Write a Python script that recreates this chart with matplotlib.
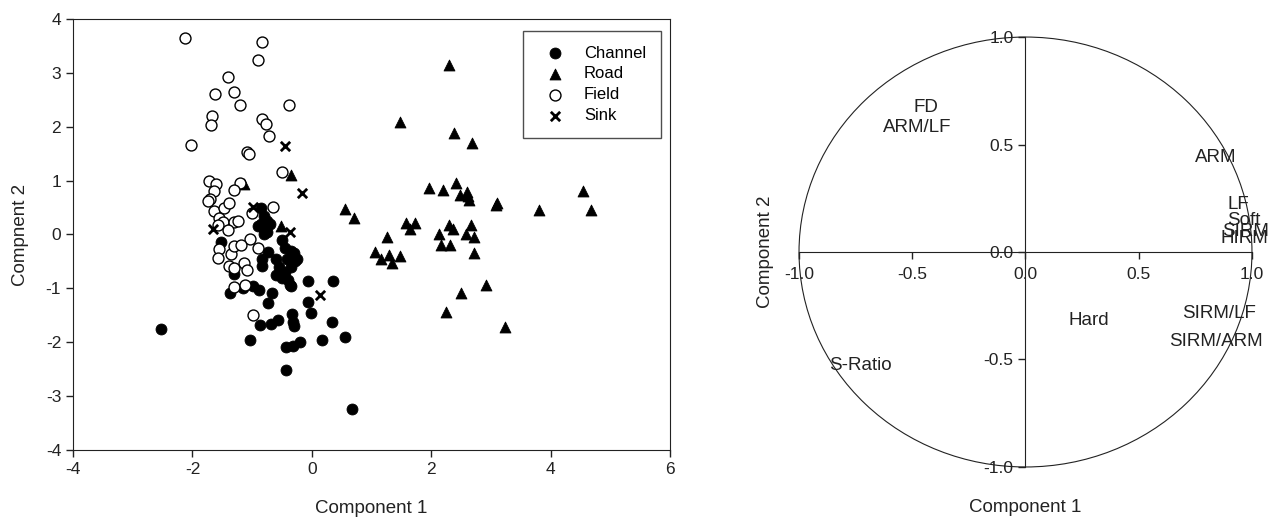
import matplotlib
matplotlib.use("Agg")
import matplotlib.pyplot as plt
from matplotlib.patches import Circle

plt.rcParams["font.family"] = ["Liberation Sans", "DejaVu Sans"]
plt.rcParams["axes.unicode_minus"] = False

# PCA scores (component 1, component 2) per site type
channel_x = [-2.53, 0.67, -0.43, -1.03, 0.17, 0.55, -0.43, -0.32, -0.20, 0.34,
             -0.87, -0.69, -0.57, -0.34, -0.32, -0.30, -0.01, -0.07, -0.74, -1.37,
             -1.15, -0.99, -0.88, -0.66, -0.37, -0.06, 0.35, -1.53, -1.30, -0.84,
             -0.84, -0.73, -0.85, -0.80, -0.75, -0.85, -0.80, -0.90, -0.70, -0.80,
             -0.75, -0.50, -0.45, -0.35, -0.30, -0.25, -0.60, -0.55, -0.45, -0.35,
             -0.50, -0.40, -0.35, -0.60, -0.30, -0.42, -0.28]
channel_y = [-1.75, -3.24, -2.51, -1.96, -1.96, -1.91, -2.09, -2.07, -1.99, -1.63,
             -1.68, -1.66, -1.59, -1.48, -1.62, -1.70, -1.45, -1.26, -1.28, -1.09,
             -1.00, -0.95, -1.03, -1.08, -0.94, -0.87, -0.87, -0.14, -0.74, -0.59,
             -0.45, -0.32, 0.50, 0.35, 0.25, 0.20, 0.10, 0.15, 0.20, 0.00,
             0.05, -0.10, -0.25, -0.30, -0.40, -0.45, -0.45, -0.60, -0.70, -0.60,
             -0.80, -0.85, -0.95, -0.75, -0.35, -0.45, -0.50]

road_x = [2.29, 1.47, 2.38, 2.69, -0.35, -1.14, 1.96, 2.20, 2.42, 2.48,
          2.60, 2.61, 2.63, 3.08, 3.10, 3.81, 4.54, 4.68, 0.56, 0.71,
          -0.52, 1.58, 1.73, 1.65, 1.26, 1.06, 1.16, 1.30, 1.35, 1.47,
          2.29, 2.37, 2.13, 2.16, 2.31, 2.67, 2.58, 2.72, 2.72, 2.91,
          2.50, 2.25, 3.23]
road_y = [3.15, 2.09, 1.88, 1.70, 1.11, 0.93, 0.87, 0.82, 0.95, 0.74,
          0.78, 0.71, 0.64, 0.55, 0.59, 0.46, 0.80, 0.46, 0.47, 0.30,
          0.15, 0.21, 0.21, 0.10, -0.04, -0.32, -0.46, -0.38, -0.53, -0.40,
          0.18, 0.10, 0.01, -0.20, -0.19, 0.17, 0.01, -0.04, -0.35, -0.94,
          -1.09, -1.43, -1.71]

field_x = [-2.12, -0.83, -0.90, -1.40, -1.63, -1.31, -1.20, -0.39, -1.67, -1.69,
           -2.03, -0.83, -0.77, -0.71, -1.08, -1.05, -0.50, -1.73, -1.61, -1.21,
           -1.64, -1.31, -1.70, -1.74, -1.64, -1.47, -1.38, -0.65, -1.01, -1.55,
           -1.49, -1.31, -1.23, -1.57, -1.40, -1.03, -1.55, -1.57, -1.36, -1.31,
           -1.18, -0.90, -1.14, -1.08, -1.39, -1.31, -1.31, -1.12, -0.98]
field_y = [3.65, 3.57, 3.24, 2.93, 2.61, 2.64, 2.41, 2.41, 2.20, 2.04,
           1.67, 2.15, 2.06, 1.83, 1.54, 1.49, 1.16, 1.00, 0.94, 0.95,
           0.81, 0.82, 0.66, 0.63, 0.44, 0.50, 0.59, 0.51, 0.40, 0.30,
           0.24, 0.23, 0.25, 0.17, 0.08, -0.09, -0.27, -0.44, -0.36, -0.22,
           -0.19, -0.25, -0.53, -0.66, -0.59, -0.63, -0.97, -0.94, -1.49]

sink_x = [-0.45, -0.16, -0.99, -1.66, -0.36, 0.14]
sink_y = [1.65, 0.77, 0.51, 0.11, 0.04, -1.13]

# loadings labels
var_names = ["FD", "ARM/LF", "ARM", "LF", "Soft", "SIRM", "HIRM",
             "Hard", "SIRM/LF", "SIRM/ARM", "S-Ratio"]
var_x = [-0.44, -0.48, 0.84, 0.94, 0.965, 0.972, 0.965, 0.28, 0.855, 0.843, -0.73]
var_y = [0.67, 0.58, 0.44, 0.22, 0.145, 0.096, 0.065, -0.32, -0.285, -0.415, -0.53]

x_ticks = [-4, -2, 0, 2, 4, 6]
y_ticks = [-4, -3, -2, -1, 0, 1, 2, 3, 4]
c_ticks = [-1.0, -0.5, 0.0, 0.5, 1.0]

ink = "#222222"
fig = plt.figure(figsize=(12.77, 5.18), dpi=100)

# left: score plot
ax = fig.add_axes([0.0572, 0.1313, 0.4675, 0.832])
ax.scatter(channel_x, channel_y, s=62, marker="o", c="black", edgecolors="black",
           linewidths=0.6, label="Channel", zorder=3)
ax.scatter(road_x, road_y, s=62, marker="^", c="black", edgecolors="black",
           linewidths=0.6, label="Road", zorder=3)
ax.scatter(field_x, field_y, s=62, marker="o", facecolors="white", edgecolors="black",
           linewidths=1.0, label="Field", zorder=3)
ax.scatter(sink_x, sink_y, s=45, marker="x", c="black", linewidths=2.0,
           label="Sink", zorder=4)
ax.set_xlim(-4, 6)
ax.set_ylim(-4, 4)
ax.set_xticks(x_ticks)
ax.set_yticks(y_ticks)
ax.tick_params(direction="out", length=5, width=1, labelsize=12.5, colors=ink)
for sp in ax.spines.values():
    sp.set_color(ink)
ax.set_xlabel("Component 1", fontsize=13.5, color=ink, labelpad=17)
ax.set_ylabel("Compnent 2", fontsize=13.5, color=ink, labelpad=12)
leg = ax.legend(loc="upper right", bbox_to_anchor=(0.985, 0.973), borderaxespad=0,
                frameon=True, fancybox=False, edgecolor=ink, fontsize=12,
                handletextpad=0.75, borderpad=0.9, labelspacing=0.35,
                scatterpoints=1)
leg.get_frame().set_linewidth(1.0)

# right: correlation circle
ax2 = fig.add_axes([0.6257, 0.0985, 0.3547, 0.830])
ax2.set_xlim(-1, 1)
ax2.set_ylim(-1, 1)
ax2.add_patch(Circle((0, 0), 1.0, fill=False, edgecolor=ink, linewidth=0.8,
                     clip_on=False))
for side in ["top", "right"]:
    ax2.spines[side].set_visible(False)
ax2.spines["left"].set_position(("data", 0))
ax2.spines["bottom"].set_position(("data", 0))
ax2.spines["left"].set_color(ink)
ax2.spines["bottom"].set_color(ink)
ax2.set_xticks(c_ticks)
ax2.set_yticks(c_ticks)
ax2.set_xticklabels([f"{t:.1f}" for t in c_ticks])
ax2.set_yticklabels([f"{t:.1f}" for t in c_ticks])
ax2.tick_params(direction="out", length=5, width=1, labelsize=12.5, colors=ink)
ax2.tick_params(axis="x", pad=6)
for name, vx, vy in zip(var_names, var_x, var_y):
    ax2.text(vx, vy, name, fontsize=13.5, color=ink, ha="center", va="center")
ax2.set_xlabel("Component 1", fontsize=13.5, color=ink)
ax2.set_ylabel("Component 2", fontsize=13.5, color=ink)
ax2.xaxis.set_label_coords(0.5, -0.074)
ax2.yaxis.set_label_coords(-0.055, 0.5)

fig.savefig("out.png", dpi=100)
